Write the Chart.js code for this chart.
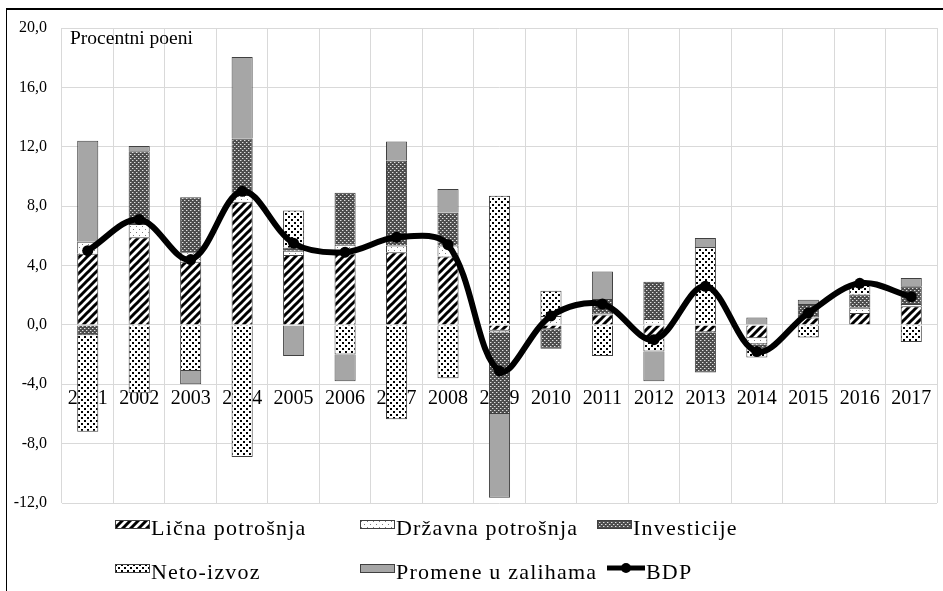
<!DOCTYPE html>
<html>
<head>
<meta charset="utf-8">
<script src="https://cdn.jsdelivr.net/npm/chart.js@4.4.0/dist/chart.umd.min.js"></script>
<style>
  body { margin: 0; background: #fff; }
  #wrap { position: relative; width: 943px; height: 591px; overflow: hidden;
          font-family: "Liberation Serif", "Times New Roman", serif; }
  #frame { position: absolute; left: 6px; top: 8px; right: -4px; bottom: -4px;
           border-left: 1px solid #000; border-top: 2px solid #000; }
  #chart { position: absolute; left: 0; top: 0; }
  #unit { position: absolute; left: 70px; top: 28px; font-size: 19.5px; color: #000; line-height: 20px; }
  .lg { position: absolute; font-size: 22px; letter-spacing: 1.2px; line-height: 22px; color: #000; white-space: nowrap; }
  .sw { position: absolute; }
</style>
</head>
<body>
<div id="wrap">
  <canvas id="chart" width="943" height="591"></canvas>
  <div id="frame"></div>
  <div id="unit">Procentni poeni</div>
  <div id="legend"></div>
</div>
<script>
// ─── DATA ─────────────────────────────────────────
const years = ['2001', '2002', '2003', '2004', '2005', '2006', '2007', '2008', '2009',
               '2010', '2011', '2012', '2013', '2014', '2015', '2016', '2017'];
const licna       = [4.8, 5.9, 4.25, 8.3, 4.7, 4.8, 4.9, 4.6, -0.4, -0.3, 0.7, -0.9, -0.5, -0.9, 0.5, 0.8, 1.25];
const drzavna     = [0.8, 0.9, 0.65, 0.45, 0.3, 0.6, 0.45, 0.75, -0.1, 0.6, 0.1, 0.4, 0.05, -0.4, 0.1, 0.35, 0.15];
const investicije = [-0.7, 4.9, 3.7, 3.8, 0.2, 3.5, 5.7, 2.2, -5.5, -1.3, 0.95, 2.5, -2.7, -0.3, 0.8, 0.9, 1.2];
const netoIzvoz   = [-6.5, -4.6, -3.1, -8.9, 2.5, -2.0, -6.35, -3.6, 8.7, 1.7, -2.1, -0.9, 5.2, -0.6, -0.85, 0.75, -1.15];
const promene     = [6.8, 0.35, -0.9, 5.5, -2.1, -1.8, 1.3, 1.6, -5.65, 0, 1.85, -2.0, 0.6, 0.5, 0.3, 0, 0.55];
const bdp         = [5.0, 7.1, 4.4, 9.0, 5.5, 4.9, 5.9, 5.4, -3.1, 0.6, 1.4, -1.0, 2.6, -1.8, 0.8, 2.8, 1.9];
const yMin = -12, yMax = 20, yStep = 4;

const FONT = '"Liberation Serif", "Times New Roman", serif';
const GRID = '#d9d9d9';
const EDGE = '#404040';

// ─── PATTERNS ─────────────────────────────────────
function makeTile(kind) {
    const c = document.createElement('canvas');
    const s = kind === 'licna' ? 8 : (kind === 'invest' ? 4 : 6);
    c.width = s; c.height = s;
    const g = c.getContext('2d');
    if (kind === 'licna') {
        g.fillStyle = '#fff'; g.fillRect(0, 0, s, s);
        g.strokeStyle = '#000'; g.lineWidth = 3;
        [[-4, 4, 4, -4], [0, 8, 8, 0], [4, 12, 12, 4]].forEach(l => {
            g.beginPath(); g.moveTo(l[0], l[1]); g.lineTo(l[2], l[3]); g.stroke();
        });
    } else if (kind === 'drzavna') {
        g.fillStyle = '#fff'; g.fillRect(0, 0, s, s);
        g.fillStyle = '#808080';
        g.fillRect(1, 1, 1, 1); g.fillRect(4, 4, 1, 1);
    } else if (kind === 'invest') {
        g.fillStyle = '#4d4d4d'; g.fillRect(0, 0, s, s);
        g.fillStyle = '#e0e0e0';
        g.fillRect(0, 0, 1, 1); g.fillRect(2, 2, 1, 1);
        g.fillStyle = '#8a8a8a';
        g.fillRect(1, 0, 1, 1); g.fillRect(3, 2, 1, 1);
    } else if (kind === 'neto') {
        g.fillStyle = '#fff'; g.fillRect(0, 0, s, s);
        g.fillStyle = '#000';
        g.fillRect(0, 0, 2, 2); g.fillRect(3, 3, 2, 2);
    }
    return c;
}

const ctx = document.getElementById('chart').getContext('2d');
const fills = {
    licna: ctx.createPattern(makeTile('licna'), 'repeat'),
    drzavna: ctx.createPattern(makeTile('drzavna'), 'repeat'),
    invest: ctx.createPattern(makeTile('invest'), 'repeat'),
    neto: ctx.createPattern(makeTile('neto'), 'repeat'),
    promene: '#a6a6a6'
};

function barSet(label, data, fill) {
    return {
        type: 'bar', label, data,
        backgroundColor: fill, borderColor: EDGE, borderWidth: 1,
        barPercentage: 0.41, categoryPercentage: 1, order: 1
    };
}

// ─── CHART ────────────────────────────────────────
new Chart(ctx, {
    data: {
        labels: years,
        datasets: [
            barSet('Lična potrošnja', licna, fills.licna),
            barSet('Državna potrošnja', drzavna, fills.drzavna),
            barSet('Investicije', investicije, fills.invest),
            barSet('Neto-izvoz', netoIzvoz, fills.neto),
            barSet('Promene u zalihama', promene, fills.promene),
            {
                type: 'line', label: 'BDP', data: bdp, stack: 'bdp', order: 0,
                borderColor: '#000', borderWidth: 6, tension: 0.35,
                pointRadius: 5.5, pointBackgroundColor: '#000', pointBorderColor: '#000', pointBorderWidth: 0
            }
        ]
    },
    options: {
        responsive: false, animation: false,
        layout: { padding: { top: 28, right: 6, bottom: 88, left: 0 } },
        plugins: { legend: { display: false }, tooltip: { enabled: false } },
        scales: {
            x: {
                stacked: true,
                position: { y: -4 },
                grid: { color: GRID, lineWidth: 1, drawTicks: false, offset: true },
                border: { display: false },
                ticks: { color: '#000', font: { family: FONT, size: 20 }, padding: 2, maxRotation: 0 }
            },
            y: {
                stacked: true, min: yMin, max: yMax,
                grid: { color: GRID, lineWidth: 1, drawTicks: false },
                border: { display: false },
                ticks: {
                    stepSize: yStep, color: '#000', padding: 15,
                    font: { family: FONT, size: 16 },
                    callback: v => v.toFixed(1).replace('.', ',')
                },
                afterFit: s => { s.width = 62; }
            }
        }
    }
});

// ─── LEGEND ───────────────────────────────────────
const legendItems = [
    { text: 'Lična potrošnja', kind: 'licna', x: 115, row: 0 },
    { text: 'Državna potrošnja', kind: 'drzavna', x: 360, row: 0 },
    { text: 'Investicije', kind: 'invest', x: 597, row: 0 },
    { text: 'Neto-izvoz', kind: 'neto', x: 115, row: 1 },
    { text: 'Promene u zalihama', kind: 'promene', x: 360, row: 1 },
    { text: 'BDP', kind: 'line', x: 607, row: 1 }
];
const rowTop = [517, 561];
const legendEl = document.getElementById('legend');
legendItems.forEach(it => {
    const sw = document.createElement('canvas');
    sw.className = 'sw';
    const w = it.kind === 'line' ? 38 : 35, h = it.kind === 'line' ? 12 : 9;
    sw.width = w; sw.height = h;
    sw.style.left = it.x + 'px';
    sw.style.top = (rowTop[it.row] + (it.kind === 'line' ? 1 : 3)) + 'px';
    const g = sw.getContext('2d');
    if (it.kind === 'line') {
        g.strokeStyle = '#000'; g.lineWidth = 5;
        g.beginPath(); g.moveTo(0, 6); g.lineTo(w, 6); g.stroke();
        g.fillStyle = '#000'; g.beginPath(); g.arc(w / 2, 6, 5, 0, Math.PI * 2); g.fill();
    } else {
        g.fillStyle = it.kind === 'promene' ? fills.promene : g.createPattern(makeTile(it.kind), 'repeat');
        g.fillRect(0, 0, w, h);
        g.strokeStyle = EDGE; g.lineWidth = 1; g.strokeRect(0.5, 0.5, w - 1, h - 1);
    }
    legendEl.appendChild(sw);
    const t = document.createElement('div');
    t.className = 'lg';
    t.textContent = it.text;
    t.style.left = (it.x + w + 1) + 'px';
    t.style.top = rowTop[it.row] + 'px';
    legendEl.appendChild(t);
});
</script>
</body>
</html>
